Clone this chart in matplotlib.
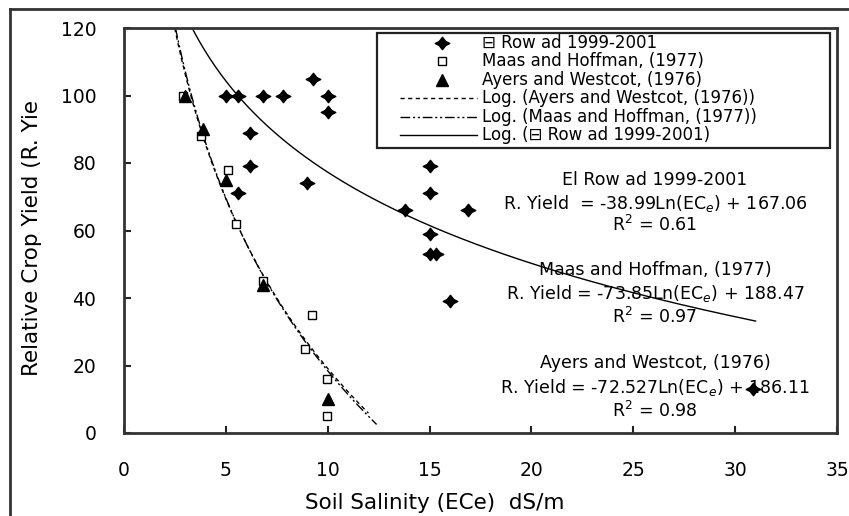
import matplotlib
matplotlib.use("Agg")
import matplotlib.pyplot as plt
import numpy as np
from matplotlib.lines import Line2D
from matplotlib.patches import Rectangle
from matplotlib.path import Path

plt.rcParams['font.family'] = ['DejaVu Sans']
plt.rcParams['mathtext.fontset'] = 'dejavusans'

# ---------------- data ----------------
elrow_x = [5.0, 5.6, 6.8, 7.8, 9.3, 10.0, 10.0, 6.2, 6.2, 9.0, 5.6,
           15.0, 15.0, 13.8, 16.9, 15.0, 15.0, 15.3, 16.0, 30.9]
elrow_y = [100, 100, 100, 100, 105, 100, 95, 89, 79, 74, 71,
           79, 71, 66, 66, 59, 53, 53, 39, 13]

maas_x = [2.9, 3.8, 5.1, 5.5, 6.8, 9.25, 8.9, 9.95, 9.95]
maas_y = [100, 88, 78, 62, 45, 35, 25, 16, 5]

ayers_x = [3.0, 3.9, 5.0, 6.8, 10.0]
ayers_y = [100, 90, 75, 44, 10]

# logarithmic trend lines: y = a*ln(x) + b
elrow_fit = (-38.99, 167.06)
maas_fit = (-73.85, 188.47)
ayers_fit = (-72.527, 186.11)
elrow_range = (3.34, 31.0)
maas_range = (2.53, 12.4)
ayers_range = (2.49, 12.0)

xticks = [0, 5, 10, 15, 20, 25, 30, 35]
yticks = [0, 20, 40, 60, 80, 100, 120]

legend_labels = ["\u229f Row ad 1999-2001", "Maas and Hoffman, (1977)",
                 "Ayers and Westcot, (1976)",
                 "Log. (Ayers and Westcot, (1976))",
                 "Log. (Maas and Hoffman, (1977))",
                 "Log. (\u229f Row ad 1999-2001)"]

eq_blocks = [
    ("El Row ad 1999-2001", "R. Yield  = -38.99Ln(EC$_{e}$) + 167.06", "R$^{2}$ = 0.61"),
    ("Maas and Hoffman, (1977)", "R. Yield = -73.85Ln(EC$_{e}$) + 188.47", "R$^{2}$ = 0.97"),
    ("Ayers and Westcot, (1976)", "R. Yield = -72.527Ln(EC$_{e}$) + 186.11", "R$^{2}$ = 0.98"),
]

# ---------------- figure ----------------
W, H = 849, 516
fig = plt.figure(figsize=(W / 100, H / 100), dpi=100)

def fx(px):
    return px / W

def fy(py):
    return 1 - py / H

# spiky diamond marker like the spreadsheet one
diamond = Path([(-1, 0), (-0.45, 0.28), (0, 0.85), (0.45, 0.28), (1, 0),
                (0.45, -0.28), (0, -0.85), (-0.45, -0.28), (-1, 0)],
               closed=True)
dia_ms = 10.5

ax_l, ax_r, ax_t, ax_b = 124, 837, 28, 433
ax = fig.add_axes([fx(ax_l), fy(ax_b), fx(ax_r - ax_l), (ax_b - ax_t) / H])

dark = '#222222'

def fit_curve(fit, rng):
    xs = np.linspace(rng[0], rng[1], 300)
    return xs, fit[0] * np.log(xs) + fit[1]

xs, ys = fit_curve(ayers_fit, ayers_range)
ax.plot(xs, ys, color='black', lw=1.0, dashes=(3, 2.5), zorder=2)
xs, ys = fit_curve(maas_fit, maas_range)
ax.plot(xs, ys, color='black', lw=1.0, dashes=(7, 2, 1.5, 2, 1.5, 2), zorder=2)
xs, ys = fit_curve(elrow_fit, elrow_range)
ax.plot(xs, ys, color='black', lw=1.0, zorder=2)

ax.plot(maas_x, maas_y, 's', ms=6, mfc='white', mec='black', mew=1.0, ls='none', zorder=3)
ax.plot(ayers_x, ayers_y, '^', ms=8, color='black', ls='none', zorder=3)
ax.plot(elrow_x, elrow_y, marker=diamond, ms=dia_ms, color='black', ls='none', zorder=4)

ax.set_xlim(0, 35)
ax.set_ylim(0, 120)
ax.set_xticks(xticks)
ax.set_yticks(yticks)
ax.tick_params(direction='in', length=5, width=1.5, colors=dark, labelsize=13.5,
               pad=20, labelcolor='black')
for s in ax.spines.values():
    s.set_linewidth(2)
    s.set_color('#333333')

# axis labels
fig.text(fx(435), fy(503), "Soil Salinity (ECe)  dS/m", ha='center', va='center',
         fontsize=15.5)
fig.text(fx(32), fy(238), "Relative Crop Yield (R. Yie", ha='center', va='center',
         rotation=90, fontsize=15.5)

# outer border (top and left visible)
fig.add_artist(Line2D([fx(10), fx(10)], [fy(9), fy(H + 5)], color='#333333', lw=2))
fig.add_artist(Line2D([fx(10), fx(W + 5)], [fy(9), fy(9)], color='#333333', lw=2))

# legend (manual)
fig.add_artist(Rectangle((fx(377), fy(148)), fx(830 - 377), (148 - 33) / H,
                         fill=True, facecolor='white', edgecolor='#222222', lw=1.6,
                         zorder=5))
rows = [43, 61, 80, 98, 117, 135]
fig.add_artist(Line2D([fx(442)], [fy(rows[0])], marker=diamond, ms=dia_ms, color='black', ls='none', zorder=6))
fig.add_artist(Line2D([fx(442)], [fy(rows[1])], marker='s', ms=6, mfc='white', mec='black', mew=1.0, ls='none', zorder=6))
fig.add_artist(Line2D([fx(442)], [fy(rows[2])], marker='^', ms=8, color='black', ls='none', zorder=6))
fig.add_artist(Line2D([fx(400), fx(477)], [fy(rows[3])] * 2, color='black', lw=1.0, dashes=(3, 2.5), zorder=6))
fig.add_artist(Line2D([fx(400), fx(477)], [fy(rows[4])] * 2, color='black', lw=1.0, dashes=(7, 2, 1.5, 2, 1.5, 2), zorder=6))
fig.add_artist(Line2D([fx(400), fx(477)], [fy(rows[5])] * 2, color='black', lw=1.0, zorder=6))
for r, lab in zip(rows, legend_labels):
    fig.text(fx(482), fy(r), lab, ha='left', va='center', fontsize=12, zorder=7)

# equation annotations
block_y = [(180, 203, 225), (270, 293, 317), (363, 387, 411)]
for (t1, t2, t3), (y1, y2, y3) in zip(eq_blocks, block_y):
    fig.text(fx(655), fy(y1), t1, ha='center', va='center', fontsize=12.5)
    fig.text(fx(655), fy(y2), t2, ha='center', va='center', fontsize=12.5)
    fig.text(fx(655), fy(y3), t3, ha='center', va='center', fontsize=12.5)

fig.savefig("out.png", dpi=100)
